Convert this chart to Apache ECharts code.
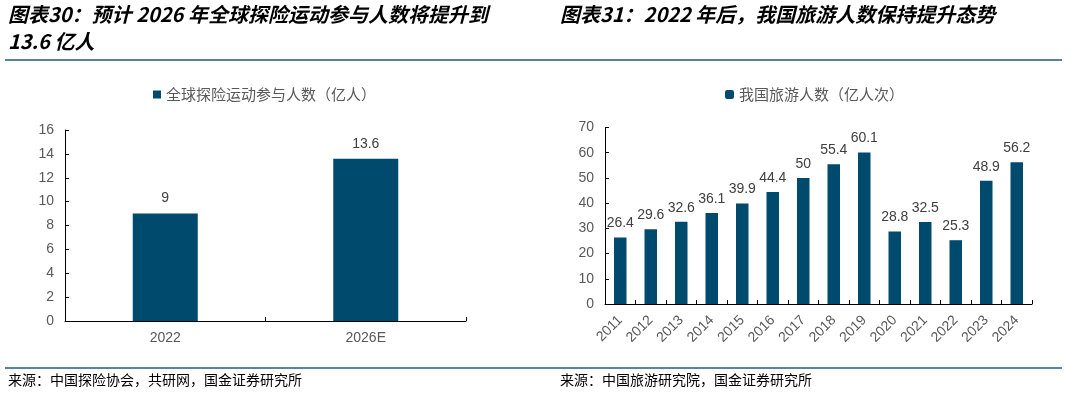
<!DOCTYPE html>
<html><head><meta charset="utf-8">
<script src="https://cdn.jsdelivr.net/npm/echarts@6/dist/echarts.min.js"></script>
<style>html,body{margin:0;padding:0;background:#fff}#c{width:1086px;height:394px}</style>
</head><body><div id="c"></div>
<script>
const leftCategories = ['2022', '2026E'];
const leftValues = [9, 13.6];
const leftSeriesName = '全球探险运动参与人数（亿人）';
const rightCategories = ['2011','2012','2013','2014','2015','2016','2017','2018','2019','2020','2021','2022','2023','2024'];
const rightValues = [26.4, 29.6, 32.6, 36.1, 39.9, 44.4, 50, 55.4, 60.1, 28.8, 32.5, 25.3, 48.9, 56.2];
const rightSeriesName = '我国旅游人数（亿人次）';
const leftTitle1 = '图表30：预计 2026 年全球探险运动参与人数将提升到';
const leftTitle2 = '13.6 亿人';
const rightTitle = '图表31：2022 年后，我国旅游人数保持提升态势';
const leftSource = '来源：中国探险协会，共研网，国金证券研究所';
const rightSource = '来源：中国旅游研究院，国金证券研究所';

const barColor = '#004a6e';
const txt = '#595959';
const font = 'Liberation Sans, Arial, sans-serif';
const cjk = '"Noto Sans CJK SC", sans-serif';

const chart = echarts.init(document.getElementById('c'));
const axisCommon = {
  axisLine: {show: true, lineStyle: {color: '#000', width: 1}},
  axisTick: {show: true, inside: true, length: 4, lineStyle: {color: '#000'}},
  splitLine: {show: false}
};
const titleStyle = {fontFamily: cjk, fontSize: 20, fontWeight: 'bold', fontStyle: 'italic', fill: '#000'};
chart.setOption({
  animation: false,
  legend: [
    {data: [leftSeriesName], left: 153, top: 87, padding: 0, itemWidth: 8, itemHeight: 8, itemGap: 2, icon: 'rect',
     textStyle: {color: txt, fontSize: 15, fontFamily: cjk}},
    {data: [rightSeriesName], left: 725, top: 87, padding: 0, itemWidth: 9, itemHeight: 9, itemGap: 2, icon: 'roundRect',
     textStyle: {color: txt, fontSize: 15, fontFamily: cjk}}
  ],
  grid: [
    {left: 65, top: 130, width: 401, height: 191},
    {left: 605, top: 127.5, width: 427, height: 176.5}
  ],
  xAxis: [
    Object.assign({type: 'category', gridIndex: 0, data: leftCategories,
      axisLabel: {color: txt, fontSize: 14, fontFamily: font, margin: 10}}, axisCommon),
    Object.assign({type: 'category', gridIndex: 1, data: rightCategories,
      axisLabel: {color: txt, fontSize: 14, fontFamily: font, rotate: 45, margin: 14, interval: 0}}, axisCommon)
  ],
  yAxis: [
    Object.assign({type: 'value', gridIndex: 0, min: 0, max: 16, interval: 2,
      axisLabel: {color: txt, fontSize: 14, fontFamily: font, margin: 11}}, axisCommon),
    Object.assign({type: 'value', gridIndex: 1, min: 0, max: 70, interval: 10,
      axisLabel: {color: txt, fontSize: 14, fontFamily: font, margin: 11}}, axisCommon)
  ],
  series: [
    {name: leftSeriesName, type: 'bar', xAxisIndex: 0, yAxisIndex: 0, data: leftValues, barWidth: 65,
     itemStyle: {color: barColor},
     label: {show: true, position: 'top', distance: 8, color: '#404040', fontSize: 14, fontFamily: font}},
    {name: rightSeriesName, type: 'bar', xAxisIndex: 1, yAxisIndex: 1, data: rightValues, barWidth: 12.5,
     itemStyle: {color: barColor},
     label: {show: true, position: 'top', distance: 7, color: '#404040', fontSize: 14, fontFamily: font}}
  ],
  graphic: [
    {type: 'text', left: 8, top: 4, style: Object.assign({text: leftTitle1}, titleStyle)},
    {type: 'text', left: 8, top: 31, style: Object.assign({text: leftTitle2}, titleStyle)},
    {type: 'text', left: 560, top: 4, style: Object.assign({text: rightTitle}, titleStyle)},
    {type: 'line', shape: {x1: 5, y1: 60, x2: 1062, y2: 60}, style: {stroke: '#1f5a82', lineWidth: 1.5}},
    {type: 'line', shape: {x1: 5, y1: 368, x2: 1062, y2: 368}, style: {stroke: '#1f5a82', lineWidth: 1.5}},
    {type: 'text', left: 8, top: 373, style: {text: leftSource, fontFamily: cjk, fontSize: 14, fill: '#000'}},
    {type: 'text', left: 560, top: 373, style: {text: rightSource, fontFamily: cjk, fontSize: 14, fill: '#000'}}
  ]
});
</script></body></html>
